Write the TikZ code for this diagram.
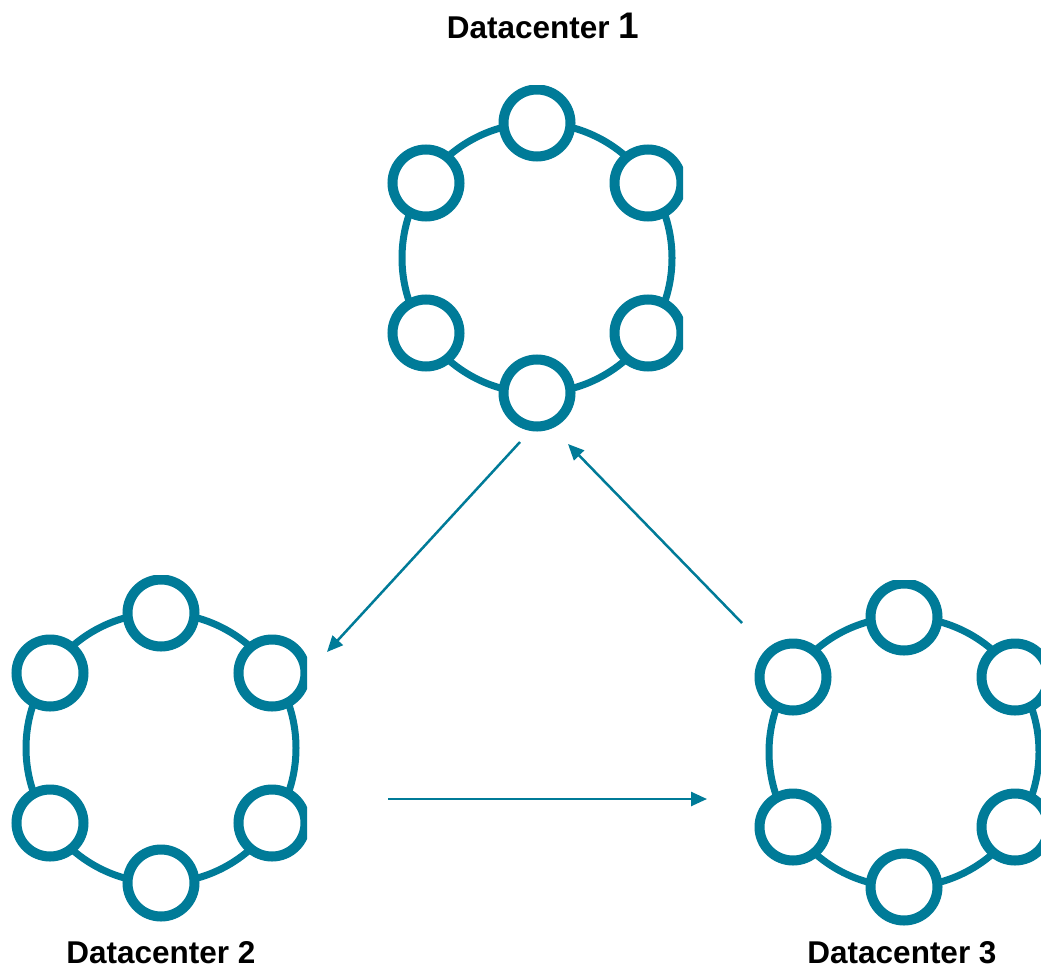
\documentclass[tikz,border=0pt]{standalone}
\usepackage{fontspec}
\setmainfont{Liberation Sans}
\usetikzlibrary{arrows.meta,calc}
\definecolor{teal}{RGB}{0,123,152}
\tikzset{
  ring/.style={draw=teal, line width=7pt},
  member/.style={circle, draw=teal, fill=white, line width=10pt, minimum size=67pt, inner sep=0pt},
  flow/.style={draw=teal, line width=2.5pt, -{Triangle[length=16pt, width=14pt]}},
  dclabel/.style={anchor=base, inner sep=0pt, font=\fontsize{31.5}{36}\selectfont\bfseries}
}
% one datacenter: a ring of six members, clipped to its box
\newcommand{\dcring}[7]{%
  \begin{scope}
    \clip (#4,#5) rectangle (#6,#7);
    \draw[ring] (#2,#3) circle[radius=135pt];
    \node[member] (#1-n)  at ($(#2,#3)+(0,-135)$) {};
    \node[member] (#1-ne) at ($(#2,#3)+(111,-75)$) {};
    \node[member] (#1-se) at ($(#2,#3)+(111,75)$) {};
    \node[member] (#1-s)  at ($(#2,#3)+(0,135)$) {};
    \node[member] (#1-sw) at ($(#2,#3)+(-111,75)$) {};
    \node[member] (#1-nw) at ($(#2,#3)+(-111,-75)$) {};
  \end{scope}}
\begin{document}
\begin{tikzpicture}[x=1pt, y=-1pt]
  \useasboundingbox (0,0) rectangle (1041,969);
  \fill[white] (0,0) rectangle (1041,969);

  \dcring{dca}{537}{258}{380}{85}{683}{432}
  \dcring{dcb}{161}{748}{0}{575}{307}{922}
  \dcring{dcc}{904}{752}{745}{580}{1041}{925}

  \node[dclabel] (lab1) at (543,38) {Datacenter {\fontsize{37}{40}\selectfont 1}};
  \node[dclabel] (lab2) at (161,963) {Datacenter 2};
  \node[dclabel] (lab3) at (902,963) {Datacenter 3};

  \coordinate (a1s) at (520,442);
  \coordinate (a1e) at (327,652);
  \coordinate (a2s) at (742,623);
  \coordinate (a2e) at (568,444);
  \coordinate (a3s) at (388,799);
  \coordinate (a3e) at (707,799);

  \draw[flow] (a1s) -- (a1e);
  \draw[flow] (a2s) -- (a2e);
  \draw[flow] (a3s) -- (a3e);
\end{tikzpicture}
\end{document}
